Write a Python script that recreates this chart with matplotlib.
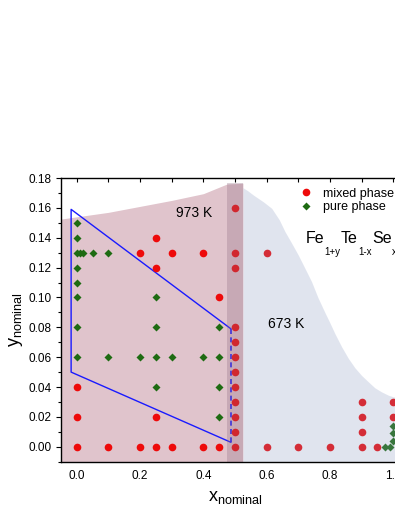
import matplotlib
matplotlib.use("Agg")
import matplotlib.pyplot as plt
from matplotlib.ticker import MultipleLocator, FormatStrFormatter

plt.rcParams["font.family"] = ["Liberation Sans", "DejaVu Sans"]
plt.rcParams["mathtext.fontset"] = "custom"
plt.rcParams["mathtext.rm"] = "Liberation Sans"
plt.rcParams["mathtext.it"] = "Liberation Sans:italic"

# mixed phase samples (x_nominal, y_nominal)
mixed_x = [0.5, 0.25, 0.2, 0.3, 0.4, 0.5, 0.6, 0.25, 0.5, 0.45,
           0.5, 0.5, 0.5, 0.5, 0.5, 0.5, 0.5, 0.5,
           0.0, 0.0, 0.25,
           0.0, 0.1, 0.2, 0.25, 0.3, 0.4, 0.45, 0.5, 0.6, 0.7, 0.8, 0.9, 0.95,
           0.9, 0.9, 0.9, 1.0, 1.0]
mixed_y = [0.16, 0.14, 0.13, 0.13, 0.13, 0.13, 0.13, 0.12, 0.12, 0.10,
           0.08, 0.07, 0.06, 0.05, 0.04, 0.03, 0.02, 0.01,
           0.04, 0.02, 0.02,
           0.0, 0.0, 0.0, 0.0, 0.0, 0.0, 0.0, 0.0, 0.0, 0.0, 0.0, 0.0, 0.0,
           0.03, 0.02, 0.01, 0.03, 0.02]

# pure phase samples
pure_x = [0.0, 0.0, 0.0, 0.01, 0.02, 0.05, 0.1, 0.0, 0.0, 0.0, 0.25,
          0.0, 0.25, 0.45,
          0.0, 0.1, 0.2, 0.25, 0.3, 0.4, 0.45,
          0.25, 0.45, 0.45,
          0.975, 0.99, 1.0, 1.0, 1.0]
pure_y = [0.15, 0.14, 0.13, 0.13, 0.13, 0.13, 0.13, 0.12, 0.11, 0.10, 0.10,
          0.08, 0.08, 0.08,
          0.06, 0.06, 0.06, 0.06, 0.06, 0.06, 0.06,
          0.04, 0.04, 0.02,
          0.0, 0.0, 0.004, 0.009, 0.014]

# 973 K region upper boundary
hot_x = [-0.05, 0.0, 0.1, 0.2, 0.3, 0.4, 0.475, 0.525]
hot_y = [0.1525, 0.154, 0.157, 0.161, 0.165, 0.1695, 0.176, 0.1765]

# 673 K region upper boundary
cold_x = [0.525, 0.54, 0.558, 0.59, 0.616, 0.64, 0.658, 0.68, 0.70, 0.72,
          0.742, 0.762, 0.784, 0.80, 0.816, 0.837, 0.858, 0.879, 0.90, 0.921,
          0.942, 0.963, 0.985, 1.0, 1.05]
cold_y = [0.1735, 0.1715, 0.1686, 0.164, 0.1597, 0.152, 0.1441, 0.136, 0.1284, 0.12,
          0.1106, 0.100, 0.090, 0.083, 0.0757, 0.067, 0.0593, 0.0529, 0.0478, 0.0436,
          0.0395, 0.0368, 0.0345, 0.0335, 0.032]

# overlap band
band_x = [0.475, 0.525]
band_top = 0.1765

# blue outline of the pure phase region
outline_x = [0.487, -0.018, -0.018, 0.487]
outline_y = [0.003, 0.050, 0.159, 0.079]
dash_x = [0.487, 0.487]
dash_y = [0.079, 0.003]

fig = plt.figure(figsize=(3.95, 5.11), dpi=100)
ax = fig.add_axes([61 / 395, 49.3 / 511, 348 / 395, 283.7 / 511])
ax.set_xlim(-0.05, 1.05)
ax.set_ylim(-0.01, 0.18)

ax.fill_between(hot_x, -0.01, hot_y, color="#e0c4cc", lw=0, zorder=0.5)

ax.plot(outline_x, outline_y, color="#1a1aff", lw=1.0, zorder=1.5)
ax.plot(dash_x, dash_y, color="#1a1aff", lw=1.2, dashes=(3, 2), zorder=1.5)

ax.plot(mixed_x, mixed_y, ls="none", marker="o", ms=5.5, color="#ee0a0a",
        mec="none", label="mixed phase", zorder=2)
ax.plot(pure_x, pure_y, ls="none", marker="D", ms=4.2, color="#1e6b12",
        mec="none", label="pure phase", zorder=2)

ax.fill_between(band_x, -0.01, band_top, color="#906d82", alpha=0.3, lw=0, zorder=3)
ax.fill_between(cold_x, -0.01, cold_y, color="#8797bf", alpha=0.25, lw=0, zorder=3)

ax.text(0.372, 0.1566, "973 K", fontsize=10, ha="center", va="center", zorder=4)
ax.text(0.661, 0.0822, "673 K", fontsize=10, ha="center", va="center", zorder=4)

# composition label built piece by piece so the subscripts sit low and small
formula_x, formula_y = 0.724, 0.1365
prev = ax.text(formula_x, formula_y, "Fe", fontsize=11.5, ha="left",
               va="baseline", zorder=4)
for big, small in [("Te", "1+y"), ("Se", "1-x"), (None, "x")]:
    sub = ax.annotate(small, xy=(1, formula_y), xycoords=(prev, "data"),
                      xytext=(0.2, -2.6), textcoords="offset points",
                      fontsize=7, ha="left", va="top", zorder=4,
                      annotation_clip=False)
    if big is None:
        break
    prev = ax.annotate(big, xy=(1, formula_y), xycoords=(sub, "data"),
                       xytext=(0.2, 0), textcoords="offset points",
                       fontsize=11.5, ha="left", va="baseline", zorder=4,
                       annotation_clip=False)

ax.xaxis.set_major_locator(MultipleLocator(0.2))
ax.xaxis.set_minor_locator(MultipleLocator(0.1))
ax.xaxis.set_major_formatter(FormatStrFormatter("%.1f"))
ax.yaxis.set_major_locator(MultipleLocator(0.02))
ax.yaxis.set_minor_locator(MultipleLocator(0.01))
ax.yaxis.set_major_formatter(FormatStrFormatter("%.2f"))

ax.tick_params(axis="x", which="both", bottom=False, top=True, direction="in",
               length=3, width=0.8, labelsize=8.5, pad=6)
ax.tick_params(axis="y", which="major", left=True, right=False, direction="out",
               length=3.6, width=0.8, labelsize=8.5, pad=3)
ax.tick_params(axis="y", which="minor", left=True, right=False, direction="out",
               length=2, width=0.8)

for sp in ax.spines.values():
    sp.set_linewidth(1.0)
    sp.set_zorder(5)

ax.set_xlabel(r"$\mathrm{x_{nominal}}$", fontsize=13, labelpad=5)
ax.set_ylabel(r"$\mathrm{y_{nominal}}$", fontsize=13, labelpad=3)

ax.legend(loc="upper left", bbox_to_anchor=(0.686, 0.966), frameon=False,
          fontsize=9, handlelength=1.0, handletextpad=0.83, borderpad=0,
          borderaxespad=0, labelspacing=0.1)

fig.savefig("out.png", dpi=100)
plt.close(fig)
